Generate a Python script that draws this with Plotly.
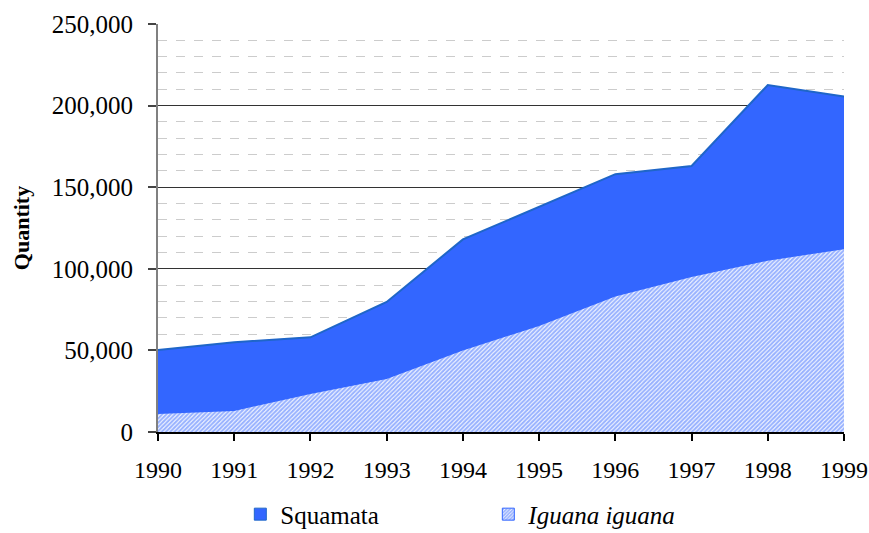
import plotly.graph_objects as go

years = [1990, 1991, 1992, 1993, 1994, 1995, 1996, 1997, 1998, 1999]
squamata = [50200, 55000, 58000, 79700, 118000, 138000, 158000, 163000, 212600, 205500]
iguana = [11000, 12900, 23300, 32500, 50000, 65000, 83000, 95000, 105000, 112000]
series_names = ["Squamata", "<i>Iguana iguana</i>"]

BLUE = "#3366FF"
LINE = "#1F66C8"
FONT = "Liberation Serif, Times New Roman, serif"

fig = go.Figure()

fig.add_trace(go.Scatter(
    x=years, y=squamata, name=series_names[0], mode="lines",
    fill="tozeroy", fillcolor=BLUE, line=dict(color=LINE, width=2),
    showlegend=False, hoverinfo="x+y"))

fig.add_trace(go.Scatter(
    x=years, y=iguana, name=series_names[1], mode="lines",
    fill="tozeroy", line=dict(width=0, color=BLUE),
    fillpattern=dict(shape="/", fgcolor=BLUE, bgcolor="white", size=3, solidity=0.7),
    showlegend=False, hoverinfo="x+y"))

# legend swatches (square keys, as in the reference)
fig.add_trace(go.Bar(x=[None], y=[None], name=series_names[0],
                     marker=dict(color=BLUE, line=dict(color=LINE, width=1))))
fig.add_trace(go.Bar(x=[None], y=[None], name=series_names[1],
                     marker=dict(color="white", line=dict(color=BLUE, width=1),
                                 pattern=dict(shape="/", fgcolor=BLUE, bgcolor="white",
                                              size=3, solidity=0.7))))

fig.update_layout(
    width=869, height=533,
    margin=dict(l=158, r=25, t=24, b=101, autoexpand=False),
    paper_bgcolor="white", plot_bgcolor="white",
    font=dict(family=FONT, size=24, color="black"),
    showlegend=True,
    legend=dict(orientation="h", x=0.12, xanchor="left", y=-0.202, yanchor="middle",
                font=dict(family=FONT, size=25, color="black"),
                entrywidth=203, entrywidthmode="pixels",
                bgcolor="rgba(0,0,0,0)"),
)

fig.update_xaxes(
    range=[1990, 1999], tickmode="array", tickvals=years, ticktext=[str(y) for y in years],
    showgrid=False, zeroline=False, showline=True, linecolor="black", linewidth=1.5,
    ticks="outside", ticklen=7, tickcolor="black", tickwidth=1.5,
    ticklabelstandoff=8,
    tickfont=dict(family=FONT, size=24, color="black"),
)

fig.update_yaxes(
    range=[0, 250000], dtick=50000, tickformat=",d",
    showgrid=True, gridcolor="#333333", gridwidth=1,
    minor=dict(dtick=10000, showgrid=True, gridcolor="#CCCCCC", griddash="dash", gridwidth=1),
    zeroline=False, showline=True, linecolor="#808080", linewidth=2,
    ticks="outside", ticklen=8, tickcolor="#444444", tickwidth=1.5,
    ticklabelstandoff=10,
    tickfont=dict(family=FONT, size=25, color="black"),
    title=dict(text="<b>Quantity</b>", font=dict(family=FONT, size=22, color="black"), standoff=16),
)

fig.write_html(
    "out.html",
    config={"displayModeBar": False},
    post_script="document.body.style.margin='0';document.body.style.overflow='hidden';",
)
